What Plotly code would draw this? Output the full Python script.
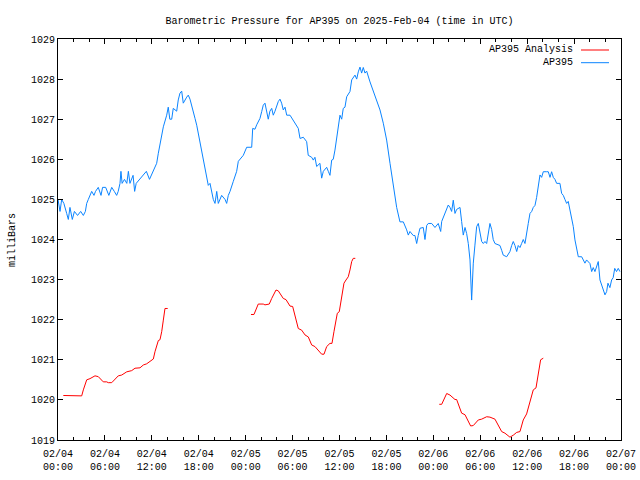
import pandas as pd
import plotly.graph_objects as go

BASE = pd.Timestamp("2025-02-04 00:00")

# AP395 observations: hours since 02/04 00:00 UTC, pressure (mbar)
obs_hours = [0.0, 0.26, 0.47, 0.75, 1.11, 1.32, 1.53, 1.83, 2.1, 2.5, 2.9, 3.24, 3.5, 3.67, 3.88,
             4.31, 4.6, 4.8, 5.15, 5.5, 5.7, 6.1, 6.5, 6.87, 7.2, 7.5, 7.7, 7.93, 8.05, 8.2, 8.5,
             8.8, 9.0, 9.2, 9.6, 9.8, 10.0, 10.4, 10.8, 11.3, 11.7, 12.19, 12.62, 12.83, 13.04,
             13.26, 13.47, 13.9, 14.1, 14.3, 14.54, 14.74, 15.18, 15.38, 15.6, 15.82, 16.02, 16.46,
             16.66, 16.88, 17.1, 17.3, 17.52, 17.74, 17.94, 18.16, 18.38, 18.58, 18.8, 19.02, 19.22,
             19.44, 19.65, 19.86, 20.08, 20.3, 20.5, 20.93, 21.36, 21.57, 21.78, 22.0, 22.42, 22.85,
             23.06, 23.27, 23.7, 24.13, 24.77, 24.9, 25.19, 25.41, 25.83, 26.05, 26.25, 26.47,
             26.69, 26.89, 27.1, 27.33, 27.53, 27.75, 28.17, 28.39, 28.6, 28.81, 29.03, 29.25,
             29.67, 30.09, 30.3, 30.73, 30.95, 31.37, 31.8, 32.0, 32.44, 32.65, 32.86, 33.08, 33.5,
             33.72, 33.93, 34.36, 34.57, 34.78, 35.0, 35.2, 35.42, 35.64, 35.84, 36.06, 36.28, 36.48,
             36.7, 36.92, 37.34, 37.56, 37.98, 38.2, 38.4, 38.62, 38.83, 39.04, 39.26, 39.47, 39.9,
             40.32, 40.75, 41.18, 41.6, 42.03, 42.46, 42.88, 43.31, 43.73, 44.16, 44.59, 44.8,
             45.01, 45.43, 45.65, 45.87, 46.07, 46.29, 46.71, 46.93, 47.15, 47.35, 47.79, 48.21,
             48.63, 48.94, 49.07, 49.49, 49.91, 50.13, 50.34, 50.55, 50.77, 50.98, 51.41, 51.62,
             51.83, 52.05, 52.26, 52.47, 52.69, 52.9, 53.0, 53.11, 53.32, 53.54, 53.75, 53.96,
             54.18, 54.39, 54.6, 54.82, 55.03, 55.24, 55.46, 55.66, 55.88, 56.52, 56.74, 56.94,
             57.38, 57.8, 58.02, 58.22, 58.44, 58.66, 58.86, 59.08, 59.29, 59.5, 59.72, 59.93,
             60.14, 60.36, 60.58, 60.78, 61.0, 61.21, 61.42, 61.64, 61.85, 62.06, 62.49, 62.7,
             62.92, 63.13, 63.34, 63.55, 63.77, 64.19, 64.41, 64.62, 64.83, 65.05, 65.25, 65.47,
             65.69, 65.9, 66.11, 66.33, 66.54, 66.97, 67.39, 67.6, 68.03, 68.25, 68.45, 68.67,
             68.88, 69.09, 69.31, 69.73, 69.95, 70.16, 70.33, 70.58, 70.8, 71.0, 71.2, 71.43,
             71.65, 71.86]
obs_mbar = [1025.0, 1024.7, 1025.0, 1024.9, 1024.65, 1024.5, 1024.8, 1024.5, 1024.7, 1024.6,
            1024.7, 1024.6, 1024.7, 1024.9, 1025.0, 1025.2, 1025.1, 1025.2, 1025.3, 1025.1,
            1025.3, 1025.3, 1025.1, 1025.3, 1025.2, 1025.1, 1025.2, 1025.4, 1025.7, 1025.4,
            1025.5, 1025.4, 1025.7, 1025.4, 1025.6, 1025.2, 1025.4, 1025.5, 1025.6, 1025.7,
            1025.5, 1025.73, 1025.9, 1026.15, 1026.4, 1026.65, 1026.81, 1027.1, 1027.3, 1027.0,
            1027.0, 1027.27, 1027.2, 1027.48, 1027.65, 1027.7, 1027.4, 1027.55, 1027.6, 1027.5,
            1027.31, 1027.2, 1027.02, 1026.85, 1026.65, 1026.48, 1026.23, 1025.98, 1025.78,
            1025.57, 1025.35, 1025.4, 1025.15, 1025.0, 1024.9, 1025.2, 1024.9, 1025.1, 1025.0,
            1024.9, 1025.1, 1025.2, 1025.45, 1025.7, 1025.95, 1026.0, 1026.1, 1026.3, 1026.3,
            1026.77, 1026.75, 1026.86, 1027.02, 1027.19, 1027.35, 1027.4, 1027.2, 1027.0, 1027.2,
            1027.27, 1027.1, 1027.2, 1027.44, 1027.5, 1027.4, 1027.23, 1027.3, 1027.1, 1027.1,
            1026.98, 1026.9, 1026.77, 1026.52, 1026.55, 1026.44, 1026.1, 1026.05, 1025.98,
            1026.05, 1025.82, 1025.9, 1025.53, 1025.7, 1025.8, 1025.7, 1025.6, 1025.98, 1026.0,
            1026.23, 1026.56, 1026.8, 1027.1, 1027.0, 1027.27, 1027.3, 1027.56, 1027.69, 1027.98,
            1028.1, 1028.0, 1028.18, 1028.3, 1028.15, 1028.29, 1028.15, 1028.2, 1027.93, 1027.69,
            1027.48, 1027.23, 1026.9, 1026.48, 1025.9, 1025.3, 1024.8, 1024.44, 1024.44, 1024.24,
            1024.11, 1024.2, 1024.1, 1024.1, 1023.9, 1024.1, 1024.28, 1024.3, 1024.0, 1024.35,
            1024.4, 1024.4, 1024.3, 1024.4, 1024.2, 1024.45, 1024.65, 1024.86, 1024.8, 1024.7,
            1024.98, 1024.65, 1024.75, 1024.8, 1024.45, 1024.11, 1024.3, 1024.15, 1023.9, 1023.49,
            1022.49, 1022.9, 1023.41, 1023.86, 1024.32, 1024.4, 1024.2, 1023.95, 1023.9, 1023.95,
            1023.9, 1024.2, 1024.4, 1024.25, 1024.0, 1023.9, 1023.85, 1023.73, 1023.61, 1023.57,
            1023.7, 1023.85, 1023.95, 1023.85, 1023.7, 1023.85, 1023.8, 1023.9, 1024.0, 1023.9,
            1024.2, 1024.4, 1024.65, 1024.7, 1024.8, 1024.85, 1025.05, 1025.35, 1025.61, 1025.55,
            1025.69, 1025.69, 1025.69, 1025.55, 1025.69, 1025.55, 1025.5, 1025.4, 1025.4, 1025.15,
            1025.1, 1025.0, 1024.9, 1024.95, 1024.74, 1024.53, 1024.32, 1023.99, 1023.8, 1023.57,
            1023.57, 1023.41, 1023.49, 1023.4, 1023.2, 1023.3, 1023.2, 1023.35, 1023.45, 1022.99,
            1022.74, 1022.62, 1022.7, 1022.91, 1022.8, 1022.99, 1023.05, 1023.28, 1023.2, 1023.28,
            1023.2]

# AP395 Analysis: three runs separated by gaps (None)
ana_hours = [0.68, 2.17, 2.39, 3.03, 3.24, 3.67, 4.09, 4.73, 5.15, 5.79, 6.23, 6.43, 6.87, 7.71,
             8.15, 8.79, 9.42, 9.85, 10.49, 10.91, 11.34, 11.98, 12.19, 12.4, 12.83, 13.04, 13.26,
             13.47, 13.68, 14.03, 19.0,
             24.68, 25.06, 25.61, 26.25, 26.47, 27.02, 27.33, 27.88, 28.17, 28.81, 29.16, 29.67,
             30.01, 30.31, 30.73, 31.16, 31.59, 32.01, 32.44, 32.86, 33.29, 33.72, 34.02, 34.36,
             34.78, 35.04, 35.29, 35.55, 35.72, 35.97, 36.28, 36.57, 36.83, 37.12, 37.34, 37.56,
             37.76, 38.02, 43.0,
             48.76, 49.07, 49.71, 50.13, 50.77, 50.98, 51.62, 52.05, 52.77, 53.11, 53.75, 54.18,
             54.82, 55.24, 55.88, 56.31, 56.74, 57.16, 57.8, 58.22, 58.66, 59.08, 59.5, 59.93,
             60.36, 60.78, 61.13, 61.42, 61.72, 62.06]
ana_mbar = [1020.11, 1020.11, 1020.1, 1020.1, 1020.25, 1020.5, 1020.53, 1020.6, 1020.58, 1020.45,
            1020.45, 1020.43, 1020.43, 1020.6, 1020.62, 1020.7, 1020.73, 1020.79, 1020.8, 1020.87,
            1020.9, 1021.0, 1021.02, 1021.2, 1021.48, 1021.5, 1021.7, 1021.99, 1022.28, 1022.28,
            None,
            1022.13, 1022.13, 1022.39, 1022.39, 1022.37, 1022.39, 1022.53, 1022.74, 1022.72,
            1022.53, 1022.5, 1022.34, 1022.33, 1022.07, 1021.78, 1021.74, 1021.62, 1021.57,
            1021.37, 1021.33, 1021.23, 1021.14, 1021.14, 1021.33, 1021.41, 1021.41, 1021.7,
            1021.95, 1022.16, 1022.2, 1022.53, 1022.91, 1022.99, 1023.07, 1023.24, 1023.45,
            1023.53, 1023.53,
            None,
            1019.89, 1019.89, 1020.16, 1020.12, 1020.01, 1020.01, 1019.67, 1019.63, 1019.35,
            1019.36, 1019.5, 1019.52, 1019.58, 1019.57, 1019.52, 1019.37, 1019.21, 1019.17,
            1019.07, 1019.12, 1019.19, 1019.21, 1019.5, 1019.65, 1019.96, 1020.25, 1020.3,
            1020.7, 1021.0, 1021.04]

TITLE = "Barometric Pressure for AP395 on 2025-Feb-04 (time in UTC)"
Y_TITLE = "milliBars"
SERIES_NAMES = ["AP395 Analysis", "AP395"]
COLORS = ["#ff0000", "#0a84ff"]

obs_t = BASE + pd.to_timedelta(obs_hours, unit="h")
ana_t = BASE + pd.to_timedelta(ana_hours, unit="h")

FONT = "Liberation Mono"

fig = go.Figure()
fig.add_trace(go.Scatter(x=ana_t, y=ana_mbar, mode="lines", name=SERIES_NAMES[0],
                         line=dict(color=COLORS[0], width=1), connectgaps=False))
fig.add_trace(go.Scatter(x=obs_t, y=obs_mbar, mode="lines", name=SERIES_NAMES[1],
                         line=dict(color=COLORS[1], width=1)))

L, R, T, B = 58, 19, 39, 40
W, H = 640, 480
pw, ph = W - L - R, H - T - B

def px(x):
    return (x - L) / pw

def py(y):
    return (H - B - y) / ph

# legend drawn gnuplot-style: text right-aligned, sample line to the right
for i, (name, col) in enumerate(zip(SERIES_NAMES, COLORS)):
    yy = 50 + 12.7 * i
    fig.add_annotation(x=px(575), y=py(yy), xref="paper", yref="paper", text=name,
                       showarrow=False, xanchor="right", yanchor="middle",
                       font=dict(family=FONT, size=10, color="black"))
    fig.add_shape(type="line", xref="paper", yref="paper", x0=px(581), x1=px(609),
                  y0=py(yy), y1=py(yy), line=dict(color=col, width=1))

fig.add_annotation(x=px(12), y=py(240), xref="paper", yref="paper", text=Y_TITLE,
                   showarrow=False, textangle=-90, xanchor="center", yanchor="middle",
                   font=dict(family=FONT, size=10, color="black"))

fig.update_layout(
    width=W, height=H,
    margin=dict(l=L, r=R, t=T, b=B, autoexpand=False),
    paper_bgcolor="white", plot_bgcolor="white",
    showlegend=False,
    font=dict(family=FONT, size=10, color="black"),
    title=dict(text=TITLE, x=0.5, xref="paper", xanchor="center",
               y=1 - 20 / H, yref="container", yanchor="middle",
               font=dict(family=FONT, size=10, color="black")),
)
fig.update_xaxes(
    type="date", automargin=False,
    range=[BASE, BASE + pd.Timedelta(hours=72)],
    tick0=BASE, dtick=6 * 3600 * 1000,
    tickformat="%m/%d<br>%H:%M",
    ticks="inside", ticklen=5, tickcolor="black", ticklabelstandoff=4,
    minor=dict(dtick=2 * 3600 * 1000, ticks="inside", ticklen=3, tickcolor="black"),
    showline=True, linecolor="black", linewidth=1, mirror="ticks",
    showgrid=False, zeroline=False,
    tickfont=dict(family=FONT, size=10, color="black"),
)
fig.update_yaxes(
    automargin=False,
    range=[1019, 1029], dtick=1, tick0=1019,
    ticks="inside", ticklen=5, tickcolor="black",
    showline=True, linecolor="black", linewidth=1, mirror="ticks",
    showgrid=False, zeroline=False,
    tickfont=dict(family=FONT, size=10, color="black"),
)

fig.write_html("out.html")
